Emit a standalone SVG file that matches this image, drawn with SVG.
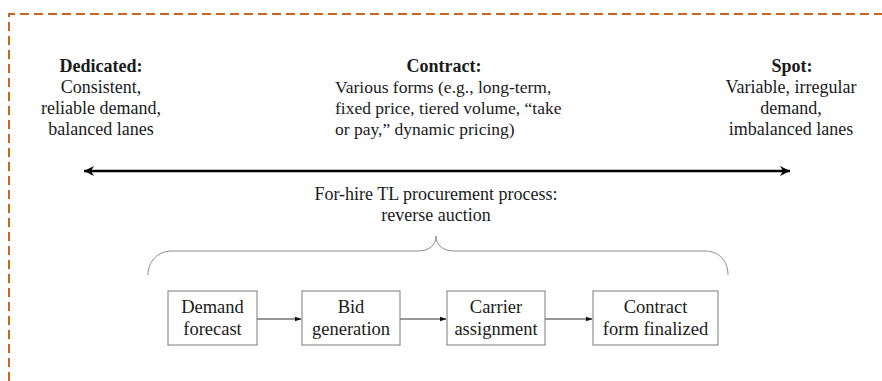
<svg xmlns="http://www.w3.org/2000/svg" width="882" height="381" viewBox="0 0 882 381">
<style>
text{font-family:'Liberation Serif','Times New Roman',serif;fill:#1a1a1a;font-size:18px}
.b{font-weight:bold}
.c{text-anchor:middle}
.sm{font-size:17.5px}
.bx{font-size:18.5px}
.box{fill:#fff;stroke:#7a7a7a;stroke-width:1}
.conn{stroke:#333;stroke-width:1;fill:none}
</style>
<defs>
<marker id="ah" viewBox="0 0 10 10" refX="9" refY="5" markerWidth="7" markerHeight="7" orient="auto-start-reverse" markerUnits="userSpaceOnUse">
<path d="M0,1.5 L10,5 L0,8.5 Z" fill="#111"/>
</marker>
<marker id="big" viewBox="0 0 12 12" refX="11" refY="6" markerWidth="12" markerHeight="12" orient="auto-start-reverse" markerUnits="userSpaceOnUse">
<path d="M1,1 L11,6 L1,11 L4,6 Z" fill="#000"/>
</marker>
</defs>
<path d="M9,381 V14 H882" fill="none" stroke="#C8651E" stroke-width="2" stroke-dasharray="9,5"/>

<g id="dedicated">
<text class="c b" x="101" y="72">Dedicated:</text>
<text class="c" x="101" y="93">Consistent,</text>
<text class="c" x="101" y="114">reliable demand,</text>
<text class="c" x="101" y="135">balanced lanes</text>
</g>
<g id="contract">
<text class="c b" x="444" y="72">Contract:</text>
<text class="sm" x="335" y="93">Various forms (e.g., long-term,</text>
<text class="sm" x="335" y="114">fixed price, tiered volume, “take</text>
<text class="sm" x="335" y="135">or pay,” dynamic pricing)</text>
</g>
<g id="spot">
<text class="c b" x="792" y="72">Spot:</text>
<text class="c" x="791" y="93">Variable, irregular</text>
<text class="c" x="791" y="114">demand,</text>
<text class="c" x="791" y="135">imbalanced lanes</text>
</g>

<g id="spectrum">
<line x1="84" y1="171" x2="790" y2="171" stroke="#000" stroke-width="2.5" marker-start="url(#big)" marker-end="url(#big)"/>
</g>

<g id="process-label">
<text class="c" x="436" y="200">For-hire TL procurement process:</text>
<text class="c" x="436" y="221">reverse auction</text>
</g>
<g id="brace">
<path d="M148,275 C148,261 158,251 172,251 H418 C428,251 436,246 436,236 C436,246 444,251 454,251 H705 C719,251 728,261 728,275" fill="none" stroke="#8a8a8a" stroke-width="1"/>
</g>

<g id="connectors">
<line class="conn" x1="257" y1="319" x2="301" y2="319" marker-end="url(#ah)"/>
<line class="conn" x1="400" y1="319" x2="446" y2="319" marker-end="url(#ah)"/>
<line class="conn" x1="545" y1="319" x2="592" y2="319" marker-end="url(#ah)"/>
</g>

<g id="demand-forecast">
<rect class="box" x="168" y="291" width="89" height="54"/>
<text class="c bx" x="212.5" y="313">Demand</text>
<text class="c bx" x="212.5" y="335">forecast</text>
</g>
<g id="bid-generation">
<rect class="box" x="302" y="291" width="98" height="54"/>
<text class="c bx" x="351" y="313">Bid</text>
<text class="c bx" x="351" y="335">generation</text>
</g>
<g id="carrier-assignment">
<rect class="box" x="447" y="291" width="98" height="54"/>
<text class="c bx" x="496" y="313">Carrier</text>
<text class="c bx" x="496" y="335">assignment</text>
</g>
<g id="contract-finalized">
<rect class="box" x="593" y="291" width="125" height="54"/>
<text class="c bx" x="655.5" y="313">Contract</text>
<text class="c bx" x="655.5" y="335">form finalized</text>
</g>
</svg>
